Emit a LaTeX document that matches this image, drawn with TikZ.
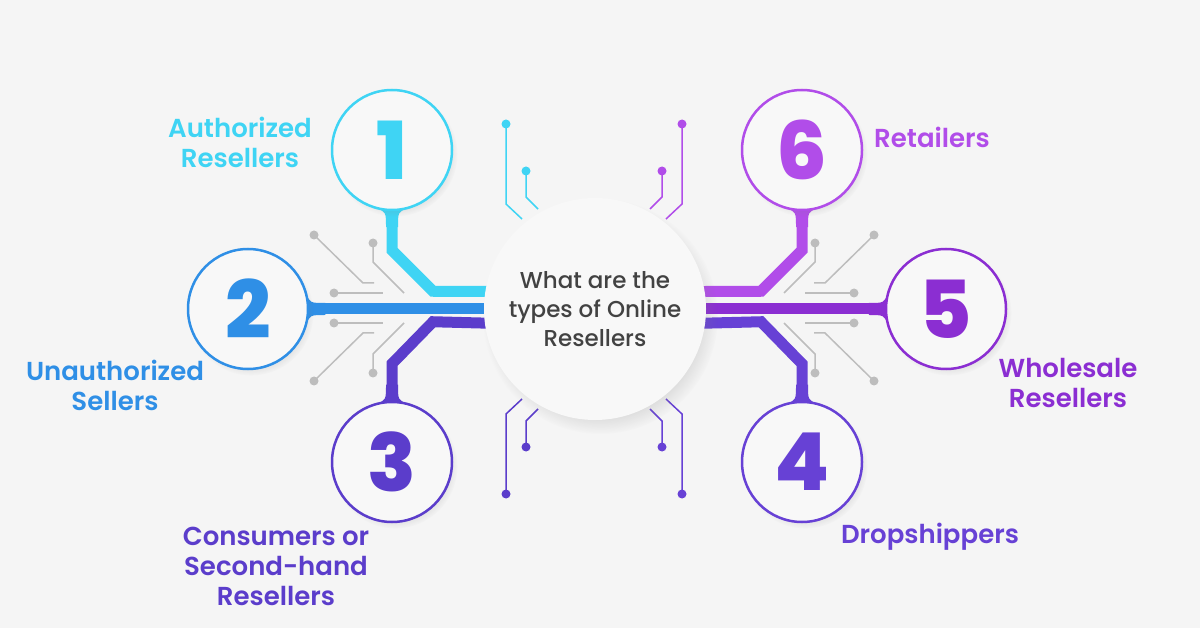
\documentclass[tikz,border=0pt]{standalone}
\usepackage{fontspec}
\setmainfont{Poppins}[UprightFont=* Medium, BoldFont=* SemiBold]
\newfontfamily\numfont{Poppins}[UprightFont=* ExtraBold]
\usetikzlibrary{calc,shadows}
\definecolor{BgGray}{HTML}{F5F5F5}
\definecolor{CircleWhite}{HTML}{F8F8F8}
\definecolor{TraceGray}{HTML}{BDBDBD}
\definecolor{HubText}{HTML}{424242}
\definecolor{CyanA}{HTML}{3FD4F4}
\definecolor{BlueB}{HTML}{2F8FE6}
\definecolor{PurpleC}{HTML}{5B3DCB}
\definecolor{PurpleD}{HTML}{6741D5}
\definecolor{VioletE}{HTML}{8B2ED2}
\definecolor{MagentaF}{HTML}{B14DE9}
\pgfdeclarelayer{back}
\pgfsetlayers{back,main}

\begin{document}
\begin{tikzpicture}[x=1pt,y=-1pt,
    numcircle/.style={circle,draw=#1,line width=2.5pt,fill=CircleWhite,minimum size=120pt,inner sep=0pt,
      text=#1,font=\numfont\fontsize{80}{80}\selectfont,
      circular drop shadow={shadow xshift=3pt,shadow yshift=-4pt,shadow scale=1.04,opacity=0.18}},
    hubcircle/.style={circle,fill=CircleWhite,minimum size=222pt,inner sep=0pt,align=center,
      text=HubText,font=\fontsize{23}{29}\selectfont,
      circular drop shadow={shadow xshift=5pt,shadow yshift=-7pt,shadow scale=1.06,opacity=0.2}},
    wire/.style={line width=11pt,draw=#1},
    trace/.style={line width=1.5pt,draw=#1},
    lbl/.style={text=#1,font=\fontsize{26}{30}\selectfont\bfseries,align=center},
    pics/flare/.style={code={\fill (-15,-3) .. controls (-6,1) .. (-6,16) -- (6,16) .. controls (6,1) .. (15,-3) -- cycle;}},
  ]
  \useasboundingbox (0,0) rectangle (1200,628);

  % nodes
  \node[hubcircle] (hub) at (595,309) {What are the\\types of Online\\Resellers};
  \node[numcircle=CyanA] (c1) at (392,150) {1};
  \node[numcircle=BlueB] (c2) at (248,309) {2};
  \node[numcircle=PurpleC] (c3) at (392,462) {3};
  \node[numcircle=PurpleD] (c4) at (802,462) {4};
  \node[numcircle=VioletE] (c5) at (946,309) {5};
  \node[numcircle=MagentaF] (c6) at (802,150) {6};

  % labels
  \node[lbl=CyanA] (l1) at (240,142) {Authorized\\Resellers};
  \node[lbl=BlueB] (l2) at (115,385) {Unauthorized\\Sellers};
  \node[lbl=PurpleC] (l3) at (276,566) {Consumers or\\Second-hand\\Resellers};
  \node[lbl=PurpleD] (l4) at (930,537) {Dropshippers};
  \node[lbl=VioletE] (l5) at (1068,383) {Wholesale\\Resellers};
  \node[lbl=MagentaF] (l6) at (932,137) {Retailers};

  \begin{pgfonlayer}{back}
    \fill[BgGray] (0,0) rectangle (1200,628);

    % grey circuit traces beside the side circles
    \foreach \s in {1,-1} {
      \foreach \t in {1,-1} {
        \begin{scope}[shift={(594,308)},xscale=\s,yscale=\t]
          \draw[trace=TraceGray] (-280,-73) -- (-231,-25) -- (-220,-25);
          \draw[trace=TraceGray] (-221,-65) -- (-221,-46) -- (-190,-15);
          \draw[trace=TraceGray] (-260,-15) -- (-211,-15);
          \fill[TraceGray] (-280,-73) circle (4.5) (-221,-65) circle (4.5) (-260,-15) circle (4.5);
        \end{scope}
      }
    }

    % coloured traces above and below the hub
    \foreach \s/\t/\col in {1/1/CyanA,-1/1/MagentaF,1/-1/PurpleC,-1/-1/PurpleD} {
      \begin{scope}[shift={(594,309)},xscale=\s,yscale=\t]
        \draw[trace=\col] (-88,-185) -- (-88,-105) -- (-72,-90);
        \draw[trace=\col] (-68,-138) -- (-68,-112) -- (-56,-100);
        \fill[\col] (-88,-185) circle (4.5) (-68,-138) circle (4.5);
      \end{scope}
    }

    % wires into the hub
    \draw[wire=CyanA] (c1.south) -- ++(0,39) -- ++(41,41) -- ($(hub.center)+(0,-17)$);
    \draw[wire=BlueB] (c2.east) -- (hub.center);
    \draw[wire=PurpleC] (c3.north) -- ++(0,-37) -- ++(41,-42) -- ($(hub.center)+(0,17)$);
    \draw[wire=PurpleD] (c4.north) -- ++(0,-37) -- ++(-41,-42) -- ($(hub.center)+(0,17)$);
    \draw[wire=VioletE] (c5.west) -- (hub.center);
    \draw[wire=MagentaF] (c6.south) -- ++(0,39) -- ++(-41,41) -- ($(hub.center)+(0,-17)$);

    % flares where wires meet circles
    \fill[CyanA] (c1.south) pic {flare};
    \fill[MagentaF] (c6.south) pic {flare};
    \fill[PurpleC] (c3.north) pic[rotate=180] {flare};
    \fill[PurpleD] (c4.north) pic[rotate=180] {flare};
    \fill[BlueB] (c2.east) pic[rotate=90] {flare};
    \fill[VioletE] (c5.west) pic[rotate=-90] {flare};
  \end{pgfonlayer}
\end{tikzpicture}
\end{document}
